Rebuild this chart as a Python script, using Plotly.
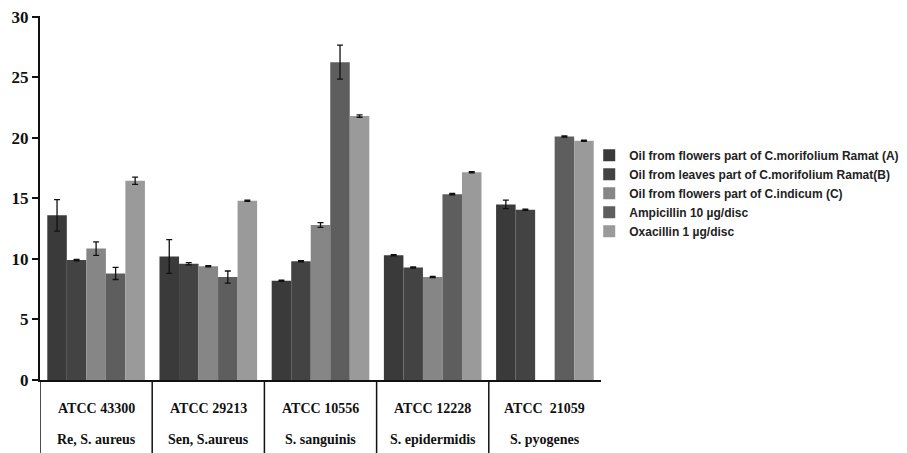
import plotly.graph_objects as go

strains = ["ATCC 43300", "ATCC 29213", "ATCC 10556", "ATCC 12228", "ATCC  21059"]
species = ["Re, S. aureus", "Sen, S.aureus", "S. sanguinis", "S. epidermidis", "S. pyogenes"]
series_names = [
    "Oil from flowers part of C.morifolium Ramat (A)",
    "Oil from leaves part of C.morifolium Ramat(B)",
    "Oil from flowers part of C.indicum (C)",
    "Ampicillin 10 \u00b5g/disc",
    "Oxacillin 1 \u00b5g/disc",
]
oil_a = [13.6, 10.2, 8.2, 10.3, 14.5]
oil_b = [9.9, 9.6, 9.8, 9.3, 14.05]
oil_c = [10.85, 9.4, 12.8, 8.5, None]
ampicillin = [8.8, 8.5, 26.25, 15.35, 20.1]
oxacillin = [16.45, 14.8, 21.8, 17.15, 19.75]
err_a = [1.3, 1.4, 0.05, 0.05, 0.35]
err_b = [0.05, 0.1, 0.05, 0.05, 0.05]
err_c = [0.55, 0.05, 0.2, 0.05, 0]
err_d = [0.5, 0.5, 1.4, 0.05, 0.05]
err_e = [0.3, 0.05, 0.1, 0.05, 0.05]
y_ticks = [0, 5, 10, 15, 20, 25, 30]

values = [oil_a, oil_b, oil_c, ampicillin, oxacillin]
errors = [err_a, err_b, err_c, err_d, err_e]
colors = ["#3a3a3a", "#434343", "#868686", "#5e5e5e", "#9a9a9a"]

SERIF = "Liberation Serif, Times New Roman, serif"
PLOT_H = 364

fig = go.Figure()
for name, vals, errs, col in zip(series_names, values, errors, colors):
    fig.add_trace(go.Bar(
        x=strains, y=vals, name="<b>%s</b>" % name,
        marker=dict(color=col, line=dict(width=0)),
        error_y=dict(type="data", array=errs, visible=True, color="#111111",
                     thickness=1.3, width=3),
    ))

fig.update_layout(
    width=899, height=445,
    margin=dict(l=32, r=306, t=8, b=73, autoexpand=False),
    paper_bgcolor="white", plot_bgcolor="white",
    barmode="group", bargap=0.13, bargroupgap=0,
    showlegend=True,
    legend=dict(
        x=0.979, y=0.657, xanchor="left", yanchor="top",
        font=dict(family="Liberation Sans Narrow, Arial Narrow, Liberation Sans, sans-serif",
                  size=12, color="#222222"),
        bgcolor="rgba(0,0,0,0)", tracegroupgap=0,
    ),
    font=dict(family=SERIF, color="#111111"),
)
fig.update_xaxes(
    type="category", range=[-0.5, 4.5], showticklabels=False, ticks="",
    showline=True, linecolor="#111111", linewidth=2, showgrid=False, zeroline=False,
)
fig.update_yaxes(
    range=[0, 30.06], tickvals=y_ticks, ticktext=["<b>%d</b>" % t for t in y_ticks],
    ticks="outside", ticklen=6, tickwidth=2, tickcolor="#111111",
    ticklabeloverflow="allow",
    showline=True, linecolor="#111111", linewidth=2, showgrid=False, zeroline=False,
    tickfont=dict(family=SERIF, size=17, color="#111111"),
)

# category table below the axis
for i in range(len(strains)):
    fig.add_shape(type="line", xref="x", yref="paper", x0=i - 0.5, x1=i - 0.5,
                  y0=0, y1=-73 / PLOT_H, line=dict(color="#111111", width=1.5))
for s, sp in zip(strains, species):
    fig.add_annotation(x=s, xref="x", yref="paper", y=-28 / PLOT_H, text="<b>%s</b>" % s,
                       showarrow=False, yanchor="middle",
                       font=dict(family=SERIF, size=14, color="#111111"))
    fig.add_annotation(x=s, xref="x", yref="paper", y=-59 / PLOT_H, text="<b>%s</b>" % sp,
                       showarrow=False, yanchor="middle",
                       font=dict(family=SERIF, size=14, color="#111111"))

fig.write_html("out.html")
